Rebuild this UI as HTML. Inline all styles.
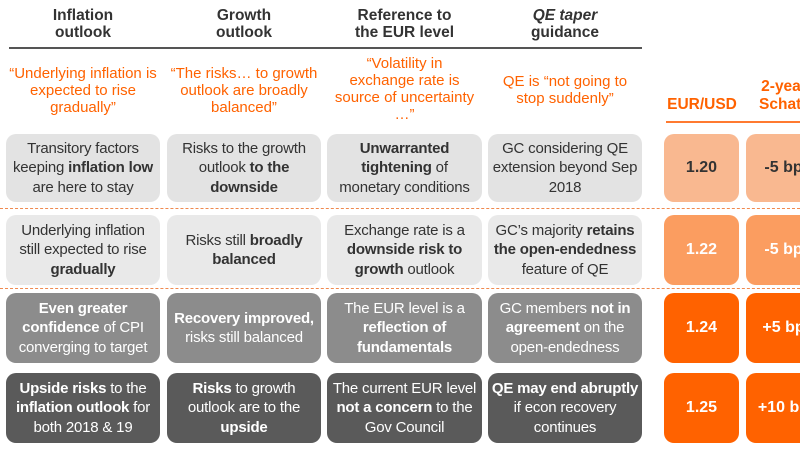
<!DOCTYPE html>
<html><head><meta charset="utf-8"><style>
body{margin:0;width:800px;height:450px;overflow:hidden;background:#fff;font-family:"Liberation Sans",sans-serif;position:relative}
.a{position:absolute;text-align:center;box-sizing:border-box}
.h{font-weight:bold;color:#333;font-size:15.5px;line-height:17px;top:7px}
.q{color:#ff6200;font-size:15px;line-height:17px;display:flex;align-items:center;justify-content:center}
.c{border-radius:10px;font-size:15px;line-height:19.5px;display:flex;align-items:center;justify-content:center;padding:0 3px;letter-spacing:-0.2px}
.r1{background:#e3e3e3;color:#333}.r2{background:#e9e9e9;color:#333}.r3{background:#8c8c8c;color:#fff}.r4{background:#5a5a5a;color:#fff}
.o{border-radius:10px;font-size:16px;font-weight:bold;display:flex;align-items:center;justify-content:center}
.o1{background:#f9b890;color:#333}.o2{background:#fb9d60;color:#fff}.o3{background:#ff6200;color:#fff}
.d{position:absolute;left:0;width:800px;border-top:1px dashed #f08a50;height:0}
</style></head><body>
<div class="a h" style="left:6px;width:154px">Inflation<br>outlook</div>
<div class="a h" style="left:167px;width:154px">Growth<br>outlook</div>
<div class="a h" style="left:327px;width:155px">Reference to<br>the EUR level</div>
<div class="a h" style="left:488px;width:154px"><i>QE taper</i><br>guidance</div>
<div class="a" style="left:9px;top:47px;width:633px;height:2px;background:#555"></div>
<div class="a q" style="left:6px;top:56px;width:154px;height:68px">“Underlying inflation is expected to rise gradually”</div>
<div class="a q" style="left:167px;top:56px;width:154px;height:68px">“The risks… to growth outlook are broadly balanced”</div>
<div class="a q" style="left:332px;top:54px;width:145px;height:70px">“Volatility in exchange rate is source of uncertainty …”</div>
<div class="a q" style="left:495px;top:56px;width:140px;height:68px">QE is “not going to stop suddenly”</div>
<div class="a" style="left:664px;top:96px;width:76px;font-weight:bold;color:#ff6200;font-size:15.5px">EUR/USD</div>
<div class="a" style="left:746px;top:78px;width:76px;font-weight:bold;color:#ff6200;font-size:15.5px;line-height:18px">2-year<br>Schatz</div>
<div class="a" style="left:666px;top:121px;width:134px;height:2px;background:#ff7a30"></div>

<div class="a c r1" style="left:6px;top:134px;width:154px;height:68px"><span>Transitory factors keeping <b>inflation low</b> are here to stay</span></div>
<div class="a c r1" style="left:167px;top:134px;width:154px;height:68px"><span>Risks to the growth outlook <b>to the downside</b></span></div>
<div class="a c r1" style="left:327px;top:134px;width:155px;height:68px"><span><b>Unwarranted tightening</b> of monetary conditions</span></div>
<div class="a c r1" style="left:488px;top:134px;width:154px;height:68px"><span>GC considering QE extension beyond Sep 2018</span></div>
<div class="a o o1" style="left:664px;top:134px;width:75px;height:68px">1.20</div>
<div class="a o o1" style="left:746px;top:134px;width:75px;height:68px">-5 bp</div>
<div class="d" style="top:208px"></div>

<div class="a c r2" style="left:6px;top:215px;width:154px;height:70px"><span>Underlying inflation still expected to rise <b>gradually</b></span></div>
<div class="a c r2" style="left:167px;top:215px;width:154px;height:70px"><span>Risks still <b>broadly balanced</b></span></div>
<div class="a c r2" style="left:327px;top:215px;width:155px;height:70px"><span>Exchange rate is a <b>downside risk to growth</b> outlook</span></div>
<div class="a c r2" style="left:488px;top:215px;width:154px;height:70px"><span>GC’s majority <b>retains the open-endedness</b> feature of QE</span></div>
<div class="a o o2" style="left:664px;top:215px;width:75px;height:70px">1.22</div>
<div class="a o o2" style="left:746px;top:215px;width:75px;height:70px">-5 bp</div>
<div class="d" style="top:288px"></div>

<div class="a c r3" style="left:6px;top:293px;width:154px;height:70px"><span><b>Even greater confidence</b> of CPI converging to target</span></div>
<div class="a c r3" style="left:167px;top:293px;width:154px;height:70px"><span><b>Recovery improved,</b> risks still balanced</span></div>
<div class="a c r3" style="left:327px;top:293px;width:155px;height:70px"><span>The EUR level is a <b>reflection of fundamentals</b></span></div>
<div class="a c r3" style="left:488px;top:293px;width:154px;height:70px"><span>GC members <b>not in agreement</b> on the open-endedness</span></div>
<div class="a o o3" style="left:664px;top:293px;width:75px;height:70px">1.24</div>
<div class="a o o3" style="left:746px;top:293px;width:75px;height:70px">+5 bp</div>

<div class="a c r4" style="left:6px;top:373px;width:154px;height:70px"><span><b>Upside risks</b> to the <b>inflation outlook</b> for both 2018 &amp; 19</span></div>
<div class="a c r4" style="left:167px;top:373px;width:154px;height:70px"><span><b>Risks</b> to growth outlook are to the <b>upside</b></span></div>
<div class="a c r4" style="left:327px;top:373px;width:155px;height:70px"><span>The current EUR level <b>not a concern</b> to the Gov Council</span></div>
<div class="a c r4" style="left:488px;top:373px;width:154px;height:70px"><span><b>QE may end abruptly</b> if econ recovery continues</span></div>
<div class="a o o3" style="left:664px;top:373px;width:75px;height:70px">1.25</div>
<div class="a o o3" style="left:746px;top:373px;width:75px;height:70px">+10 bp</div>
</body></html>
